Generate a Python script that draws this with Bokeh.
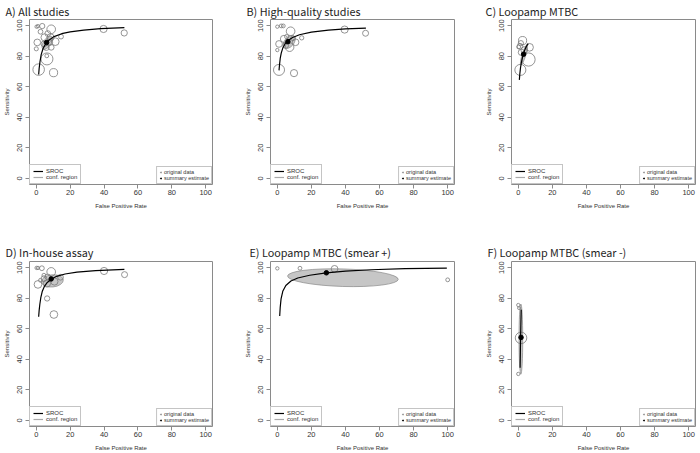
from bokeh.plotting import figure
from bokeh.models import Legend, LegendItem, FixedTicker, Range1d, ColumnDataSource
from bokeh.layouts import gridplot
from bokeh.embed import file_html
from bokeh.resources import INLINE

# ---------------- data (percent) ----------------
TICKS = [0, 20, 40, 60, 80, 100]
titles = ["A) All studies", "B) High-quality studies", "C) Loopamp MTBC",
          "D) In-house assay", "E) Loopamp MTBC (smear +)", "F) Loopamp MTBC (smear -)"]

# A) All studies
a_fpr = [0.2, 1.0, 3.5, 8.8, 0.6, 0.0, 1.4, 6.3, 10.2, 11.2, 14.6, 39.7, 51.9, 4.9, 6.8, 8.4, 7.8, 4.5, 5.9, 8.8, 2.5, 6.2]
a_sens = [99.3, 99.6, 99.7, 97.6, 89.0, 84.8, 71.2, 78.2, 69.2, 89.5, 92.8, 97.8, 95.2, 92.3, 94.8, 92.3, 89.0, 88.0, 85.6, 85.8, 96.0, 80.2]
a_wt = [1.4, 1.4, 2.2, 3.6, 2.8, 1.7, 4.8, 5.0, 3.4, 3.2, 2.0, 3.0, 2.6, 3.0, 2.4, 3.0, 2.6, 2.4, 2.4, 2.4, 2.0, 1.6]
a_sroc_fpr = [1.4, 1.7, 2.2, 2.9, 4.0, 5.5, 7.5, 10.5, 15, 20, 28, 38, 52]
a_sroc_sens = [68, 72, 76.5, 81, 85, 88, 90.5, 92.8, 94.7, 95.9, 97.1, 98.0, 98.7]
a_summary = (6.1, 88.9)
a_region = (6.5, 88.8, 4.5, 10.0, -0.6)

# B) High-quality studies
b_fpr = [0.0, 2.3, 3.5, 7.8, 1.0, 0.0, 1.0, 9.8, 14.3, 39.5, 51.8, 3.9, 4.9, 7.2, 10.7, 5.5, 9.2]
b_sens = [99.3, 99.8, 99.8, 96.3, 88.0, 84.0, 71.0, 68.9, 92.0, 97.4, 95.0, 91.3, 87.0, 85.9, 89.1, 92.8, 91.7]
b_wt = [1.4, 1.6, 1.6, 3.6, 2.8, 1.4, 4.6, 3.0, 1.8, 3.0, 2.5, 3.0, 2.4, 3.6, 2.8, 1.8, 2.0]
b_sroc_fpr = [1.0, 1.3, 1.7, 2.3, 3.2, 4.5, 6.3, 9, 13, 20, 30, 40, 52]
b_sroc_sens = [70.7, 74.5, 78.5, 82, 85.3, 88, 90.2, 92.2, 94, 95.7, 97.0, 97.8, 98.4]
b_summary = (6.2, 89.5)
b_region = (7.0, 89.3, 5.5, 10.0, -0.7)

# C) Loopamp MTBC
c_fpr = [1.2, 6.0, 6.6, 2.5, 1.5, 1.0, 3.5, 0.2, 1.8]
c_sens = [71.0, 77.8, 85.8, 90.2, 88.5, 86.5, 84.0, 86.0, 82.5]
c_wt = [4.6, 5.5, 3.2, 3.4, 2.2, 2.4, 2.8, 1.6, 2.6]
c_sroc_fpr = [0.6, 0.9, 1.3, 1.9, 2.7, 3.6, 4.7, 5.8]
c_sroc_sens = [64.5, 68.5, 72.5, 76.5, 80.3, 83.5, 86.3, 88.2]
c_summary = (3.1, 81.3)
c_region = (3.3, 80.8, 2.2, 13.5, -0.3)

# D) In-house assay
d_fpr = [0.2, 1.0, 3.3, 8.8, 1.0, 6.4, 10.4, 40.0, 52.1, 4.5, 6.8, 6.3, 10.7, 14.3, 4.5, 2.5]
d_sens = [99.8, 99.8, 99.6, 97.2, 89.0, 79.8, 69.3, 97.8, 95.4, 92.8, 93.9, 89.6, 90.9, 93.7, 95.0, 91.7]
d_wt = [1.4, 1.4, 2.0, 3.6, 3.2, 2.2, 3.2, 3.0, 2.5, 2.4, 2.4, 3.0, 3.0, 2.4, 1.6, 1.6]
d_sroc_fpr = [1.4, 1.7, 2.1, 2.7, 3.5, 4.7, 6.5, 8.8, 12, 17, 24, 35, 52]
d_sroc_sens = [67.8, 72, 76, 80.5, 84.3, 87.5, 90.3, 92.4, 94.3, 95.8, 97.0, 98.0, 98.8]
d_summary = (8.8, 92.6)
d_region = (9.5, 91.3, 13.0, 8.0, 0.1)

# E) Loopamp MTBC (smear +)
e_fpr = [0.0, 13.3, 33.6, 100.0]
e_sens = [99.5, 99.6, 99.2, 92.0]
e_wt = [1.4, 1.6, 2.8, 1.6]
e_sroc_fpr = [1.4, 1.7, 2.2, 3.2, 5, 8, 12, 19, 28.8, 40, 55, 75, 99.5]
e_sroc_sens = [68.3, 74, 79.5, 84.5, 88.3, 91.2, 93.2, 95, 96.6, 97.7, 98.6, 99.3, 99.7]
e_summary = (28.8, 96.6)
e_region = (38.5, 93.4, 65.0, 11.5, -0.03)

# F) Loopamp MTBC (smear -)
f_fpr = [0.0, 0.4, 0.0, 1.6]
f_sens = [75.5, 73.5, 30.4, 54.0]
f_wt = [1.4, 1.2, 1.4, 4.8]
f_sroc_fpr = [1.05, 1.2, 1.35, 1.5, 1.7]
f_sroc_sens = [34.5, 45, 54.3, 63, 72.5]
f_summary = (1.6, 54.3)
f_region = (1.5, 53.2, 2.2, 46.0, 0.0)

# ---------------- style ----------------
GRAY = "#8a8a8a"
TXT = "#333333"
CIRC = "#7a7a7a"
TICK_FONT = "Liberation Sans"
LAB_FONT = "Liberation Sans"
TITLE_FONT = "Noto Sans CJK JP"
NAN = float("nan")


def panel(title, fpr, sens, wt, sx, sy, summ, reg, fw, fh, bl, br, bt, bb, title_dx, title_gap):
    p = figure(width=fw, height=fh, x_range=Range1d(-4, 104), y_range=Range1d(-4, 104),
               output_backend="svg", toolbar_location=None, title=title,
               min_border_left=bl, min_border_right=br, min_border_top=bt, min_border_bottom=bb)
    p.title.text_font = TITLE_FONT
    p.title.text_font_size = "10.8px"
    p.title.text_font_style = "normal"
    p.title.text_color = "#1e1e1e"
    p.title.align = "left"
    p.title.offset = title_dx
    p.title.standoff = title_gap
    p.xgrid.visible = False
    p.ygrid.visible = False
    p.outline_line_color = GRAY
    p.outline_line_width = 1
    p.background_fill_color = "white"
    p.border_fill_color = "white"
    for ax in (p.xaxis[0], p.yaxis[0]):
        ax.ticker = FixedTicker(ticks=TICKS)
        ax.axis_line_color = None
        ax.major_tick_line_color = GRAY
        ax.major_tick_out = 4
        ax.major_tick_in = 0
        ax.minor_tick_line_color = None
        ax.major_label_text_font = TICK_FONT
        ax.major_label_text_font_size = "7.5px"
        ax.major_label_text_color = TXT
        ax.axis_label_text_font = LAB_FONT
        ax.axis_label_text_font_size = "6px"
        ax.axis_label_text_font_style = "normal"
        ax.axis_label_text_color = TXT
    p.xaxis[0].axis_label = "False Positive Rate"
    p.yaxis[0].axis_label = "Sensitivity"
    p.yaxis[0].major_label_orientation = "vertical"
    p.yaxis[0].major_label_standoff = 3
    p.yaxis[0].axis_label_standoff = 5
    p.xaxis[0].major_label_standoff = 1
    p.xaxis[0].axis_label_standoff = 5

    # confidence region
    cx, cy, ew, eh, ang = reg
    p.ellipse(x=[cx], y=[cy], width=[ew], height=[eh], angle=[ang],
              fill_color="#c6c6c6", line_color="#7a7a7a", line_width=0.6)
    # study circles
    src = ColumnDataSource(dict(x=fpr, y=sens, s=[2.4 * w for w in wt]))
    p.scatter("x", "y", size="s", source=src, marker="circle", fill_color=None,
              line_color=CIRC, line_width=0.8)
    # SROC curve
    p.line(sx, sy, line_color="black", line_width=1.2)
    # summary estimate
    p.scatter([summ[0]], [summ[1]], marker="circle", size=4.5, fill_color="black", line_color="black")

    # legend proxies (not drawn: NaN coordinates)
    r1 = p.line([NAN], [NAN], line_color="black", line_width=1.2)
    r2 = p.line([NAN], [NAN], line_color="#aaaaaa", line_width=1.2)
    r3 = p.scatter([NAN], [NAN], marker="circle", size=3, fill_color=None, line_color=CIRC, line_width=0.8)
    r4 = p.scatter([NAN], [NAN], marker="circle", size=3, fill_color="black", line_color="black")
    common = dict(margin=0, spacing=0, glyph_height=6, label_height=6,
                  label_text_font=LAB_FONT, label_text_color=TXT, border_line_color=GRAY,
                  border_line_width=1, background_fill_color="white", background_fill_alpha=1.0,
                  label_width=10)
    leg1 = Legend(items=[LegendItem(label="SROC", renderers=[r1]),
                         LegendItem(label="conf. region", renderers=[r2])],
                  location="bottom_left", glyph_width=10, label_standoff=3, padding=3,
                  label_text_font_size="6px", **common)
    leg2 = Legend(items=[LegendItem(label="original data", renderers=[r3]),
                         LegendItem(label="summary estimate", renderers=[r4])],
                  location="bottom_right", glyph_width=3, label_standoff=2, padding=2,
                  label_text_font_size="5.5px", **common)
    p.add_layout(leg1)
    p.add_layout(leg2)
    return p


TOP_H, BOT_H = 227, 226
pa = panel(titles[0], a_fpr, a_sens, a_wt, a_sroc_fpr, a_sroc_sens, a_summary, a_region,
           240, TOP_H, 28, 28, 18, 43, -24, 1)
pb = panel(titles[1], b_fpr, b_sens, b_wt, b_sroc_fpr, b_sroc_sens, b_summary, b_region,
           230, TOP_H, 30, 16, 18, 43, -24, 1)
pc = panel(titles[2], c_fpr, c_sens, c_wt, c_sroc_fpr, c_sroc_sens, c_summary, c_region,
           230, TOP_H, 41, 5, 18, 43, -26, 1)
pd_ = panel(titles[3], d_fpr, d_sens, d_wt, d_sroc_fpr, d_sroc_sens, d_summary, d_region,
            240, BOT_H, 28, 28, 34, 26, -24, 2.5)
pe = panel(titles[4], e_fpr, e_sens, e_wt, e_sroc_fpr, e_sroc_sens, e_summary, e_region,
           230, BOT_H, 30, 16, 34, 26, -21, 2.5)
pf = panel(titles[5], f_fpr, f_sens, f_wt, f_sroc_fpr, f_sroc_sens, f_summary, f_region,
           230, BOT_H, 41, 5, 34, 26, -24, 2.5)

grid = gridplot([[pa, pb, pc], [pd_, pe, pf]], toolbar_location=None)

open("out.html", "w").write(file_html(grid, INLINE))
